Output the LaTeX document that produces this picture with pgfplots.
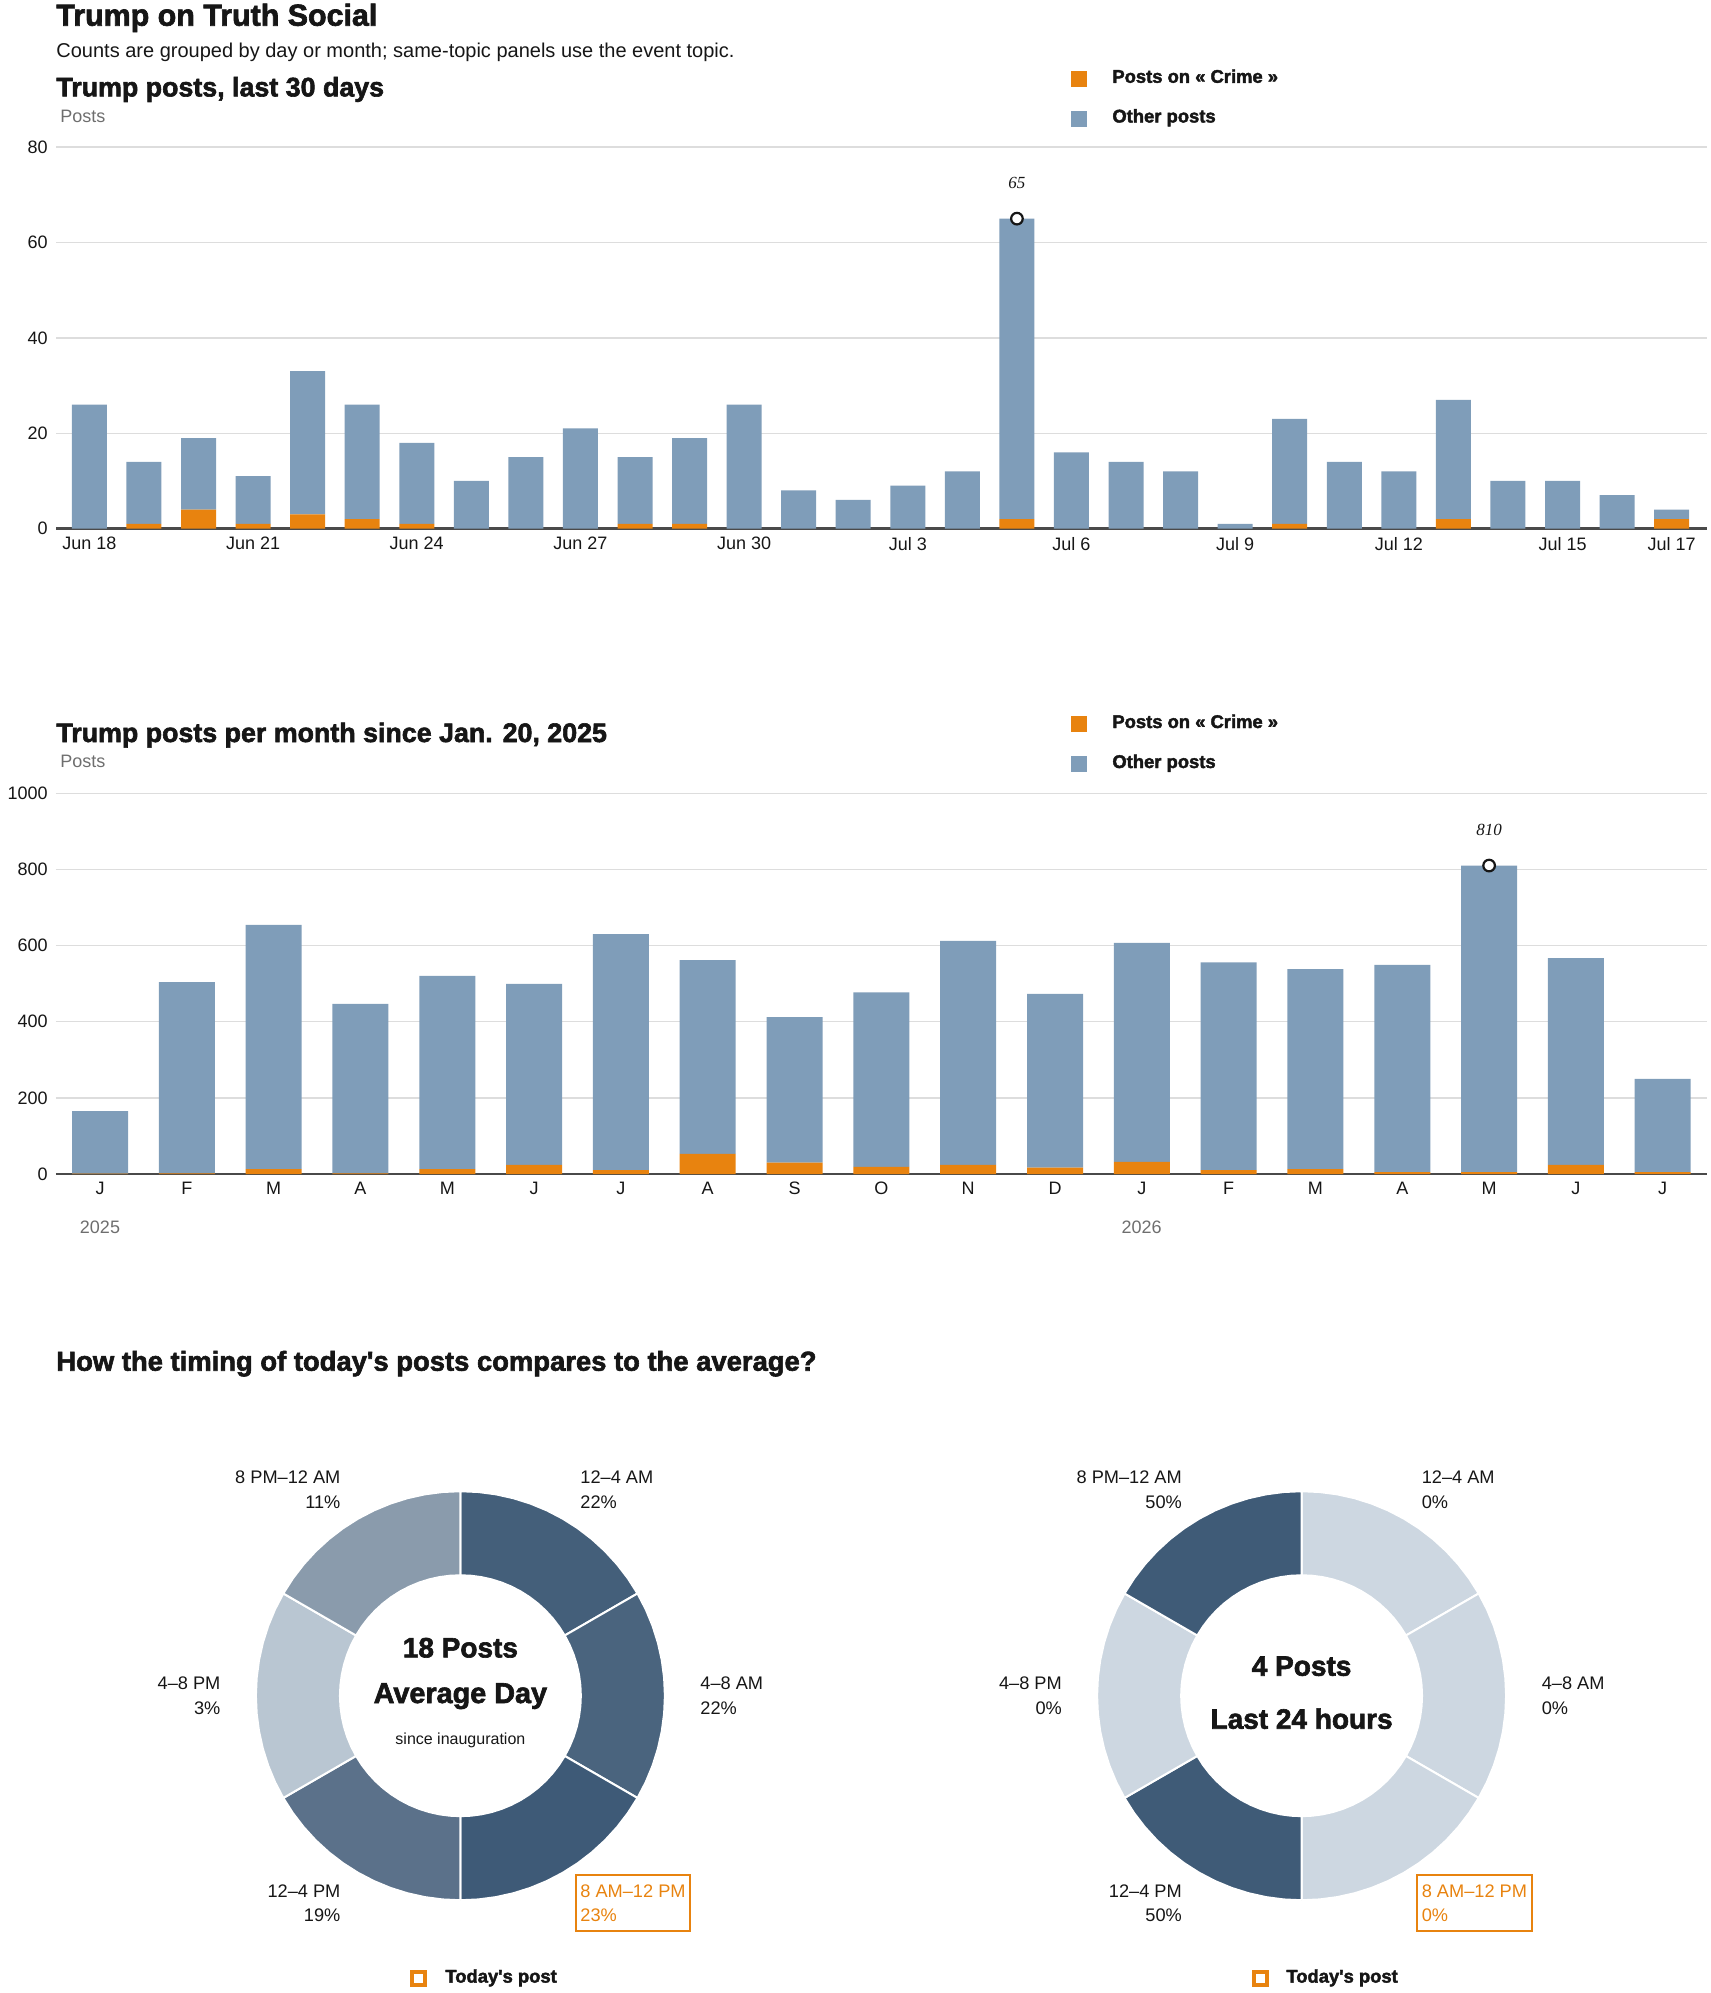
\documentclass[border=0pt]{standalone}
\usepackage{pgfplots}
\pgfplotsset{compat=1.18}
\usepackage{pgfplotstable}
\usepgfplotslibrary{polar}
\usepackage{fontspec}
\setmainfont{Liberation Sans}
\newfontfamily\heavy{Liberation Sans Bold}[FakeBold=2.2]
\newfontfamily\notefont{Liberation Serif}

\definecolor{crime}{HTML}{E8830F}
\definecolor{other}{HTML}{7F9DB9}
\definecolor{gridc}{HTML}{DDDDDD}
\definecolor{basec}{HTML}{4A4A4A}
\definecolor{ink}{HTML}{161616}
\definecolor{muted}{HTML}{6E6E6E}
% donut shades
\definecolor{dA}{HTML}{445F7A}
\definecolor{dB}{HTML}{4A647E}
\definecolor{dC}{HTML}{3E5A77}
\definecolor{dD}{HTML}{5B718A}
\definecolor{dE}{HTML}{B9C6D2}
\definecolor{dF}{HTML}{8A9BAC}
\definecolor{dHi}{HTML}{3F5B77}
\definecolor{dLo}{HTML}{CDD7E1}

% last 30 days: crime posts and other posts
\pgfplotstableread[row sep=\\]{
i crime other\\
0 0 26\\ 1 1 13\\ 2 4 15\\ 3 1 10\\ 4 3 30\\ 5 2 24\\ 6 1 17\\ 7 0 10\\
8 0 15\\ 9 0 21\\ 10 1 14\\ 11 1 18\\ 12 0 26\\ 13 0 8\\ 14 0 6\\ 15 0 9\\
16 0 12\\ 17 2 63\\ 18 0 16\\ 19 0 14\\ 20 0 12\\ 21 0 1\\ 22 1 22\\ 23 0 14\\
24 0 12\\ 25 2 25\\ 26 0 10\\ 27 0 10\\ 28 0 7\\ 29 2 2\\
}\daily

% per month since Jan 2025
\pgfplotstableread[row sep=\\]{
i crime other\\
0 1 164\\ 1 2 502\\ 2 13 641\\ 3 2 445\\ 4 13 507\\ 5 24 475\\ 6 10 620\\
7 53 509\\ 8 30 382\\ 9 19 458\\ 10 24 588\\ 11 17 456\\ 12 32 575\\
13 10 546\\ 14 13 525\\ 15 5 544\\ 16 5 805\\ 17 24 543\\ 18 5 245\\
}\monthly

% donut ring segments (angle, radius), 60 degrees each, clockwise from top
\pgfplotstableread[row sep=\\]{
a r\\ 90 1\\ 85 1\\ 80 1\\ 75 1\\ 70 1\\ 65 1\\ 60 1\\ 55 1\\ 50 1\\ 45 1\\ 40 1\\ 35 1\\ 30 1\\
30 .589\\ 35 .589\\ 40 .589\\ 45 .589\\ 50 .589\\ 55 .589\\ 60 .589\\ 65 .589\\ 70 .589\\ 75 .589\\ 80 .589\\ 85 .589\\ 90 .589\\ 90 1\\
}\segA
\pgfplotstableread[row sep=\\]{
a r\\ 30 1\\ 25 1\\ 20 1\\ 15 1\\ 10 1\\ 5 1\\ 0 1\\ -5 1\\ -10 1\\ -15 1\\ -20 1\\ -25 1\\ -30 1\\
-30 .589\\ -25 .589\\ -20 .589\\ -15 .589\\ -10 .589\\ -5 .589\\ 0 .589\\ 5 .589\\ 10 .589\\ 15 .589\\ 20 .589\\ 25 .589\\ 30 .589\\ 30 1\\
}\segB
\pgfplotstableread[row sep=\\]{
a r\\ -30 1\\ -35 1\\ -40 1\\ -45 1\\ -50 1\\ -55 1\\ -60 1\\ -65 1\\ -70 1\\ -75 1\\ -80 1\\ -85 1\\ -90 1\\
-90 .589\\ -85 .589\\ -80 .589\\ -75 .589\\ -70 .589\\ -65 .589\\ -60 .589\\ -55 .589\\ -50 .589\\ -45 .589\\ -40 .589\\ -35 .589\\ -30 .589\\ -30 1\\
}\segC
\pgfplotstableread[row sep=\\]{
a r\\ 270 1\\ 265 1\\ 260 1\\ 255 1\\ 250 1\\ 245 1\\ 240 1\\ 235 1\\ 230 1\\ 225 1\\ 220 1\\ 215 1\\ 210 1\\
210 .589\\ 215 .589\\ 220 .589\\ 225 .589\\ 230 .589\\ 235 .589\\ 240 .589\\ 245 .589\\ 250 .589\\ 255 .589\\ 260 .589\\ 265 .589\\ 270 .589\\ 270 1\\
}\segD
\pgfplotstableread[row sep=\\]{
a r\\ 210 1\\ 205 1\\ 200 1\\ 195 1\\ 190 1\\ 185 1\\ 180 1\\ 175 1\\ 170 1\\ 165 1\\ 160 1\\ 155 1\\ 150 1\\
150 .589\\ 155 .589\\ 160 .589\\ 165 .589\\ 170 .589\\ 175 .589\\ 180 .589\\ 185 .589\\ 190 .589\\ 195 .589\\ 200 .589\\ 205 .589\\ 210 .589\\ 210 1\\
}\segE
\pgfplotstableread[row sep=\\]{
a r\\ 150 1\\ 145 1\\ 140 1\\ 135 1\\ 130 1\\ 125 1\\ 120 1\\ 115 1\\ 110 1\\ 105 1\\ 100 1\\ 95 1\\ 90 1\\
90 .589\\ 95 .589\\ 100 .589\\ 105 .589\\ 110 .589\\ 115 .589\\ 120 .589\\ 125 .589\\ 130 .589\\ 135 .589\\ 140 .589\\ 145 .589\\ 150 .589\\ 150 1\\
}\segF

\newcommand{\tickfont}{\fontsize{9}{10}\selectfont}
\newcommand{\lab}{\fontsize{9.1}{11}\selectfont}

\pgfplotsset{
  postbars/.style={
    scale only axis, width=825.5pt, anchor=south west,
    axis lines*=left, axis line style={draw=none},
    tick style={draw=none}, major tick length=0pt,
    ymajorgrids, grid style={draw=gridc, line width=0.7pt},
    ybar stacked, ymin=0, clip=false,
    ticklabel style={font=\tickfont, text=ink},
    /pgf/number format/assume math mode=true,
    /pgf/number format/1000 sep={},
    yticklabel style={anchor=east, inner sep=0pt, xshift=-4pt},
    xticklabel style={anchor=north, inner sep=0pt, yshift=-4pt},
  },
  peak/.style={
    scale only axis, width=825.5pt, anchor=south west,
    hide axis, ymin=0, clip=false,
  },
  peakmark/.style={
    only marks, mark=*, mark size=2.9pt,
    mark options={fill=white, draw=ink, line width=1.1pt},
    point meta=explicit symbolic, nodes near coords,
    nodes near coords style={font=\notefont\itshape\fontsize{8.5}{9}\selectfont,
      anchor=center, yshift=17.8pt, text=ink},
  },
  donut/.style={
    scale only axis, width=204.5pt, height=204.5pt, anchor=center,
    hide axis, ymin=0, ymax=1, clip=false,
  },
  seg/.style={fill=#1, draw=white, line width=1pt},
}

\begin{document}
\begin{tikzpicture}
\path[use as bounding box] (0,0) rectangle (855pt,-996.5pt);

% headings
\node[anchor=base west, inner sep=0, font=\heavy\fontsize{15.2}{18}\selectfont, text=ink] at (28pt,-12.85pt) {Trump on Truth Social};
\node[anchor=base west, inner sep=0, font=\fontsize{10}{12}\selectfont, text=ink] at (28pt,-28.5pt) {Counts are grouped by day or month; same-topic panels use the event topic.};

% ---- panel 1: last 30 days
\node[anchor=base west, inner sep=0, font=\heavy\fontsize{13.4}{16}\selectfont, text=ink] at (28pt,-48.2pt) {Trump posts, last 30 days};
\node[anchor=base west, inner sep=0, font=\fontsize{9}{10}\selectfont, text=muted] at (30pt,-61.2pt) {Posts};
\fill[crime] (535.5pt,-35.5pt) rectangle (543.5pt,-43.5pt);
\fill[other] (535.5pt,-55.5pt) rectangle (543.5pt,-63.5pt);
\node[anchor=base west, inner sep=0, font=\heavy\fontsize{9.2}{11}\selectfont, text=ink] at (556pt,-41.4pt) {Posts on « Crime »};
\node[anchor=base west, inner sep=0, font=\heavy\fontsize{9.2}{11}\selectfont, text=ink] at (556pt,-61.25pt) {Other posts};

\begin{axis}[postbars, at={(28pt,-264.3pt)}, height=190.75pt,
  xmin=-0.612, xmax=29.648, ymax=80, ytick={0,20,40,60,80},
  bar width=17.5pt,
  xtick={0,3,6,9,12,15,18,21,24,27,29},
  xticklabels={Jun 18,Jun 21,Jun 24,Jun 27,Jun 30,Jul 3,Jul 6,Jul 9,Jul 12,Jul 15,Jul 17}]
\addplot[fill=crime, draw=none] table[x=i, y=crime] {\daily};
\addplot[fill=other, draw=none] table[x=i, y=other] {\daily};
\draw[basec, line width=1.4pt] (rel axis cs:0,0) -- (rel axis cs:1,0);
\end{axis}
\begin{axis}[peak, at={(28pt,-264.3pt)}, height=190.75pt,
  xmin=-0.612, xmax=29.648, ymax=80]
\addplot[peakmark] coordinates {(17,65) [65]};
\end{axis}

% ---- panel 2: per month
\node[anchor=base west, inner sep=0, font=\heavy\fontsize{13.4}{16}\selectfont, text=ink] at (28pt,-371pt) {Trump posts per month since Jan. 20, 2025};
\node[anchor=base west, inner sep=0, font=\fontsize{9}{10}\selectfont, text=muted] at (30pt,-383.6pt) {Posts};
\fill[crime] (535.5pt,-358pt) rectangle (543.5pt,-366pt);
\fill[other] (535.5pt,-378pt) rectangle (543.5pt,-386pt);
\node[anchor=base west, inner sep=0, font=\heavy\fontsize{9.2}{11}\selectfont, text=ink] at (556pt,-364pt) {Posts on « Crime »};
\node[anchor=base west, inner sep=0, font=\heavy\fontsize{9.2}{11}\selectfont, text=ink] at (556pt,-384pt) {Other posts};

\begin{axis}[postbars, at={(28pt,-587pt)}, height=190.4pt,
  xmin=-0.507, xmax=18.51, ymax=1000, ytick={0,200,400,600,800,1000},
  bar width=28pt,
  xtick={0,1,2,3,4,5,6,7,8,9,10,11,12,13,14,15,16,17,18},
  xticklabels={J,F,M,A,M,J,J,A,S,O,N,D,J,F,M,A,M,J,J}]
\addplot[fill=crime, draw=none] table[x=i, y=crime] {\monthly};
\addplot[fill=other, draw=none] table[x=i, y=other] {\monthly};
\draw[basec, line width=1.4pt] (rel axis cs:0,0) -- (rel axis cs:1,0);
\end{axis}
\begin{axis}[peak, at={(28pt,-587pt)}, height=190.4pt,
  xmin=-0.507, xmax=18.51, ymax=1000]
\addplot[peakmark] coordinates {(16,810) [810]};
\end{axis}
\node[anchor=base, inner sep=0, font=\fontsize{9}{10}\selectfont, text=muted] at (50pt,-616.7pt) {2025};
\node[anchor=base, inner sep=0, font=\fontsize{9}{10}\selectfont, text=muted] at (570.8pt,-616.7pt) {2026};

% ---- timing donuts
\node[anchor=base west, inner sep=0, font=\heavy\fontsize{13.7}{16}\selectfont, text=ink] at (28pt,-685.35pt) {How the timing of today\textquotesingle s posts compares to the average?};

\begin{polaraxis}[donut, at={(230.2pt,-847.85pt)}]
\addplot[seg=dA] table[x=a, y=r] {\segA};
\addplot[seg=dB] table[x=a, y=r] {\segB};
\addplot[seg=dC] table[x=a, y=r] {\segC};
\addplot[seg=dD] table[x=a, y=r] {\segD};
\addplot[seg=dE] table[x=a, y=r] {\segE};
\addplot[seg=dF] table[x=a, y=r] {\segF};
\end{polaraxis}

\begin{polaraxis}[donut, at={(650.8pt,-847.85pt)}]
\addplot[seg=dLo] table[x=a, y=r] {\segA};
\addplot[seg=dLo] table[x=a, y=r] {\segB};
\addplot[seg=dLo] table[x=a, y=r] {\segC};
\addplot[seg=dHi] table[x=a, y=r] {\segD};
\addplot[seg=dLo] table[x=a, y=r] {\segE};
\addplot[seg=dHi] table[x=a, y=r] {\segF};
\end{polaraxis}

% left donut texts
\node[anchor=base, inner sep=0, font=\heavy\fontsize{14}{16}\selectfont, text=ink] at (230.2pt,-828.7pt) {18 Posts};
\node[anchor=base, inner sep=0, font=\heavy\fontsize{14.4}{16}\selectfont, text=ink] at (230.2pt,-851.5pt) {Average Day};
\node[anchor=base, inner sep=0, font=\fontsize{8}{9}\selectfont, text=ink] at (230.2pt,-872pt) {since inauguration};

\begin{scope}[every node/.style={inner sep=0, font=\lab, text=ink}]
\node[anchor=base west] at (290pt,-741.7pt) {12–4 AM};
\node[anchor=base west] at (290pt,-754.05pt) {22\%};
\node[anchor=base west] at (350pt,-844.9pt) {4–8 AM};
\node[anchor=base west] at (350pt,-857.2pt) {22\%};
\node[anchor=base west, text=crime] at (290pt,-948.6pt) {8 AM–12 PM};
\node[anchor=base west, text=crime] at (290pt,-960.95pt) {23\%};
\node[anchor=base east] at (170.4pt,-948.6pt) {12–4 PM};
\node[anchor=base east] at (170.4pt,-960.95pt) {19\%};
\node[anchor=base east] at (110.4pt,-844.9pt) {4–8 PM};
\node[anchor=base east] at (110.4pt,-857.2pt) {3\%};
\node[anchor=base east] at (170.4pt,-741.7pt) {8 PM–12 AM};
\node[anchor=base east] at (170.4pt,-754.05pt) {11\%};
\end{scope}
\draw[crime, line width=1.2pt] (288pt,-937.5pt) rectangle (345pt,-965.5pt);
\draw[crime, line width=2pt] (206.05pt,-985.75pt) rectangle (212.55pt,-992.25pt);
\node[anchor=base west, inner sep=0, font=\heavy\fontsize{9.2}{11}\selectfont, text=ink] at (222.5pt,-991.3pt) {Today\textquotesingle s post};

% right donut texts
\node[anchor=base, inner sep=0, font=\heavy\fontsize{14}{16}\selectfont, text=ink] at (650.8pt,-837.85pt) {4 Posts};
\node[anchor=base, inner sep=0, font=\heavy\fontsize{14}{16}\selectfont, text=ink] at (650.8pt,-864.35pt) {Last 24 hours};

\begin{scope}[every node/.style={inner sep=0, font=\lab, text=ink}]
\node[anchor=base west] at (710.7pt,-741.7pt) {12–4 AM};
\node[anchor=base west] at (710.7pt,-754.05pt) {0\%};
\node[anchor=base west] at (770.7pt,-844.9pt) {4–8 AM};
\node[anchor=base west] at (770.7pt,-857.2pt) {0\%};
\node[anchor=base west, text=crime] at (710.7pt,-948.6pt) {8 AM–12 PM};
\node[anchor=base west, text=crime] at (710.7pt,-960.95pt) {0\%};
\node[anchor=base east] at (591.1pt,-948.6pt) {12–4 PM};
\node[anchor=base east] at (591.1pt,-960.95pt) {50\%};
\node[anchor=base east] at (531.1pt,-844.9pt) {4–8 PM};
\node[anchor=base east] at (531.1pt,-857.2pt) {0\%};
\node[anchor=base east] at (591.1pt,-741.7pt) {8 PM–12 AM};
\node[anchor=base east] at (591.1pt,-754.05pt) {50\%};
\end{scope}
\draw[crime, line width=1.2pt] (708.4pt,-937.5pt) rectangle (765.9pt,-965.5pt);
\draw[crime, line width=2pt] (626.75pt,-985.75pt) rectangle (633.25pt,-992.25pt);
\node[anchor=base west, inner sep=0, font=\heavy\fontsize{9.2}{11}\selectfont, text=ink] at (643pt,-991.3pt) {Today\textquotesingle s post};
\end{tikzpicture}
\end{document}
